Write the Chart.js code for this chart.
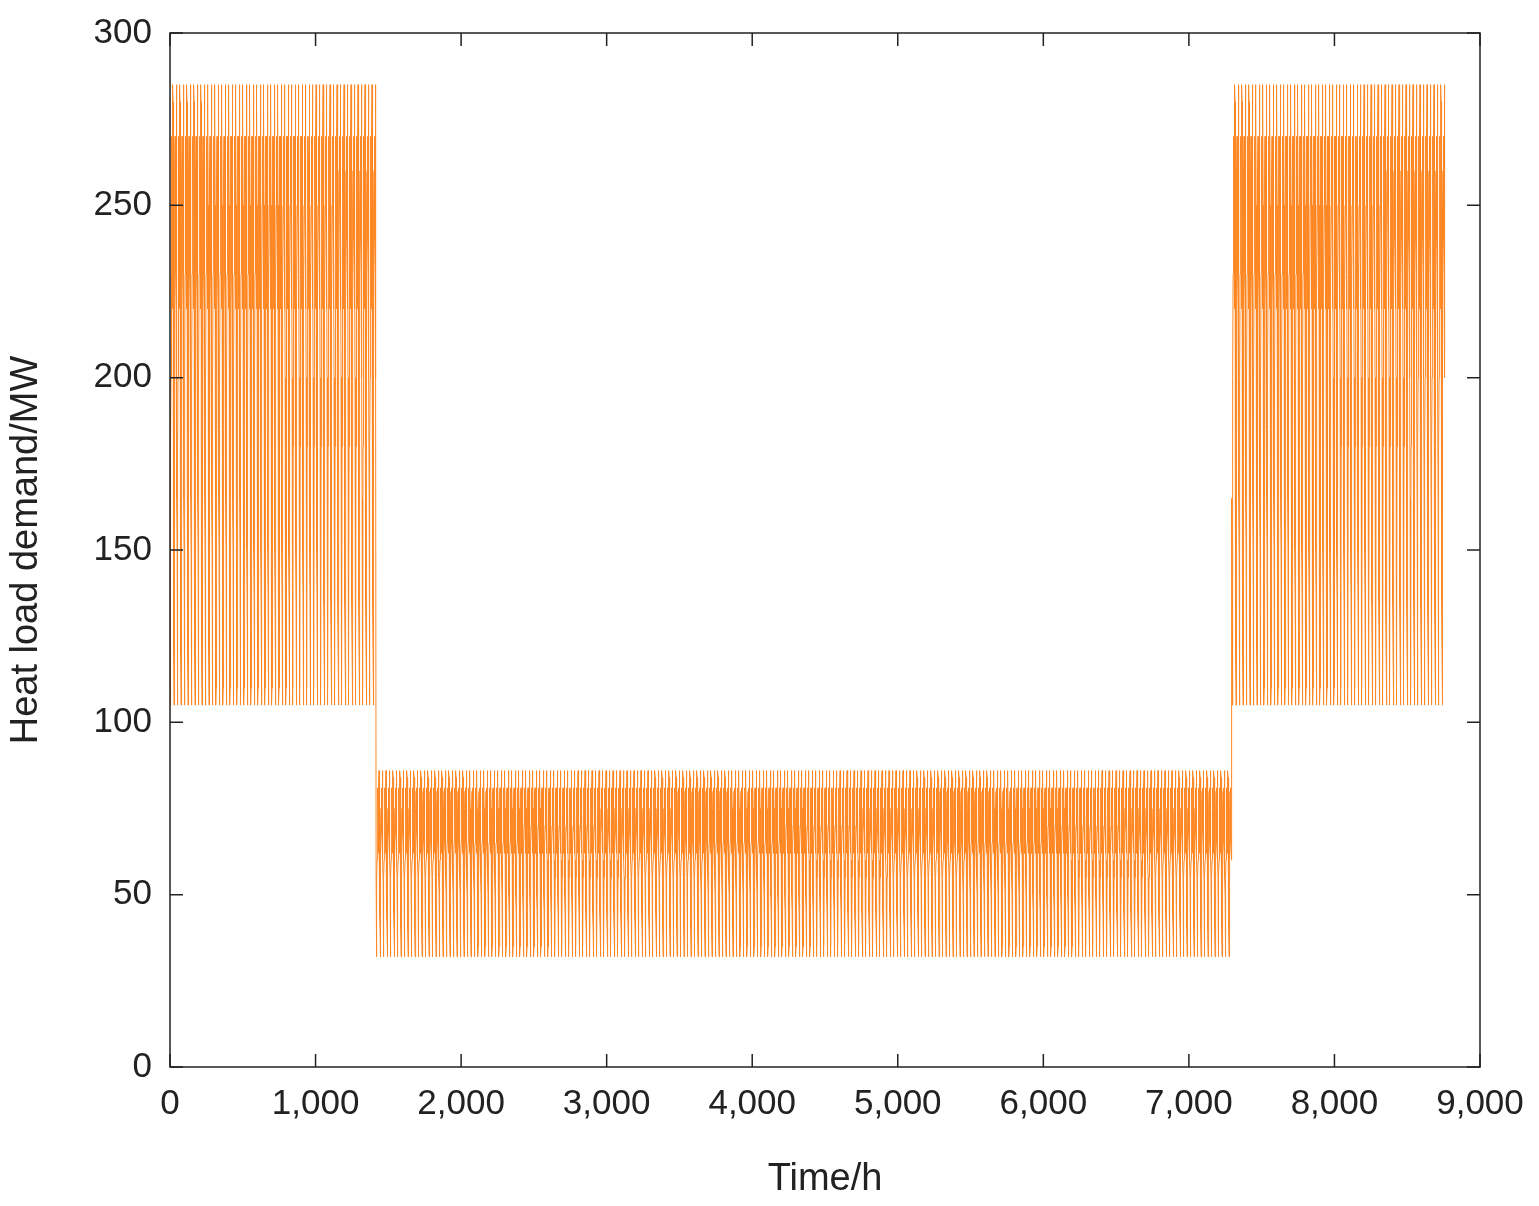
<!DOCTYPE html>
<html><head><meta charset="utf-8">
<script src="https://cdn.jsdelivr.net/npm/chart.js@4"></script>
<style>html,body{margin:0;padding:0;background:#fff}#w{width:1539px;height:1206px}</style>
</head><body><div id="w"><canvas id="c"></canvas></div>
<script>
// Daily (24 h) load profiles, MW
const heatingDay = [165,150,135,120,105,110,180,200,230,250,260,270,270,265,260,250,240,230,220,270,285,280,250,200];
const summerDay  = [55,50,45,40,32,35,55,60,65,70,75,80,81,78,75,70,68,65,62,81,86,84,75,60];
const heatingEndHour = 1416;   // heating season ends
const heatingStartHour = 7296; // heating season restarts
const totalHours = 8760;
const xTicks = [0,1000,2000,3000,4000,5000,6000,7000,8000,9000];
const yTicks = [0,50,100,150,200,250,300];

const pts = [];
for (let h = 0; h < totalHours; h++) {
  const heating = h < heatingEndHour || h >= heatingStartHour;
  pts.push({x: h, y: (heating ? heatingDay : summerDay)[h % 24]});
}

const mirror = {
  id: 'mirror',
  afterDraw(ch) {
    const c = ch.ctx, a = ch.chartArea, xs = ch.scales.x, ys = ch.scales.y;
    c.save(); c.strokeStyle = '#222'; c.lineWidth = 1.5;
    c.strokeRect(a.left, a.top, a.right - a.left, a.bottom - a.top);
    c.beginPath();
    xTicks.forEach(v => { const p = xs.getPixelForValue(v);
      c.moveTo(p, a.bottom); c.lineTo(p, a.bottom - 13); c.moveTo(p, a.top); c.lineTo(p, a.top + 13); });
    yTicks.forEach(v => { const p = ys.getPixelForValue(v);
      c.moveTo(a.left, p); c.lineTo(a.left + 13, p); c.moveTo(a.right, p); c.lineTo(a.right - 13, p); });
    c.stroke(); c.restore();
  }
};

new Chart(document.getElementById('c'), {
  type: 'line',
  data: { datasets: [{ data: pts, borderColor: 'rgb(255,136,36)', borderWidth: 1, pointRadius: 0, tension: 0 }] },
  options: {
    responsive: true, maintainAspectRatio: false, animation: false,
    layout: { padding: { top: 33, right: 59, left: 0, bottom: 0 } },
    plugins: { legend: { display: false }, tooltip: { enabled: false } },
    scales: {
      x: { type: 'linear', min: 0, max: 9000,
        afterBuildTicks: s => { s.ticks = xTicks.map(v => ({value: v})); },
        grid: { display: false }, border: { display: false },
        ticks: { color: '#222', font: { family: 'Liberation Sans', size: 35 }, padding: 8, maxRotation: 0 },
        title: { display: true, text: 'Time/h', color: '#222', font: { family: 'Liberation Sans', size: 38 }, padding: { top: 4 } },
        afterFit: s => { s.height = 139; } },
      y: { min: 0, max: 300,
        afterBuildTicks: s => { s.ticks = yTicks.map(v => ({value: v})); },
        grid: { display: false }, border: { display: false },
        ticks: { color: '#222', font: { family: 'Liberation Sans', size: 35 }, padding: 10 },
        title: { display: true, text: 'Heat load demand/MW', color: '#222', font: { family: 'Liberation Sans', size: 38 }, padding: { bottom: 6 } },
        afterFit: s => { s.width = 170; } }
    }
  },
  plugins: [mirror]
});
</script></body></html>
